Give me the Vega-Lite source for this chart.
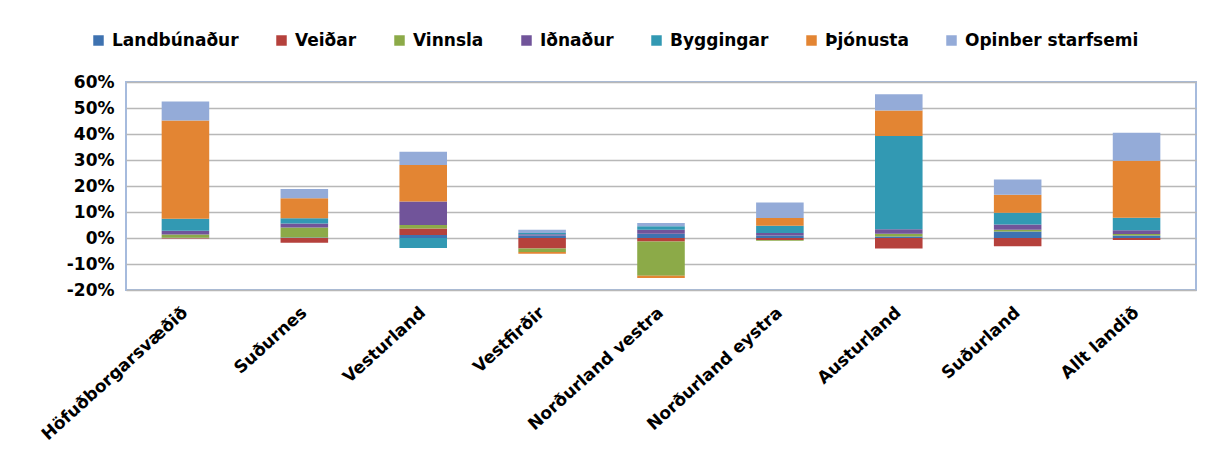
{
  "$schema": "https://vega.github.io/schema/vega-lite/v6.json",
  "autosize": {"type": "none"},
  "width": 1070,
  "height": 208,
  "padding": {"left": 126, "top": 82, "right": 14, "bottom": 173},
  "background": "white",
  "data": {
    "values": [
      {"region": "Höfuðborgarsvæðið", "sector": "Landbúnaður", "o": 1, "value": 0.001},
      {"region": "Höfuðborgarsvæðið", "sector": "Veiðar", "o": 2, "value": -0.002},
      {"region": "Höfuðborgarsvæðið", "sector": "Vinnsla", "o": 3, "value": 0.012},
      {"region": "Höfuðborgarsvæðið", "sector": "Iðnaður", "o": 4, "value": 0.015},
      {"region": "Höfuðborgarsvæðið", "sector": "Byggingar", "o": 5, "value": 0.046},
      {"region": "Höfuðborgarsvæðið", "sector": "Þjónusta", "o": 6, "value": 0.378},
      {"region": "Höfuðborgarsvæðið", "sector": "Opinber starfsemi", "o": 7, "value": 0.073},
      {"region": "Suðurnes", "sector": "Landbúnaður", "o": 1, "value": 0.002},
      {"region": "Suðurnes", "sector": "Veiðar", "o": 2, "value": -0.018},
      {"region": "Suðurnes", "sector": "Vinnsla", "o": 3, "value": 0.038},
      {"region": "Suðurnes", "sector": "Iðnaður", "o": 4, "value": 0.016},
      {"region": "Suðurnes", "sector": "Byggingar", "o": 5, "value": 0.020},
      {"region": "Suðurnes", "sector": "Þjónusta", "o": 6, "value": 0.077},
      {"region": "Suðurnes", "sector": "Opinber starfsemi", "o": 7, "value": 0.035},
      {"region": "Vesturland", "sector": "Landbúnaður", "o": 1, "value": 0.012},
      {"region": "Vesturland", "sector": "Veiðar", "o": 2, "value": 0.025},
      {"region": "Vesturland", "sector": "Vinnsla", "o": 3, "value": 0.013},
      {"region": "Vesturland", "sector": "Iðnaður", "o": 4, "value": 0.090},
      {"region": "Vesturland", "sector": "Byggingar", "o": 5, "value": -0.038},
      {"region": "Vesturland", "sector": "Þjónusta", "o": 6, "value": 0.141},
      {"region": "Vesturland", "sector": "Opinber starfsemi", "o": 7, "value": 0.051},
      {"region": "Vestfirðir", "sector": "Landbúnaður", "o": 1, "value": 0.010},
      {"region": "Vestfirðir", "sector": "Veiðar", "o": 2, "value": -0.040},
      {"region": "Vestfirðir", "sector": "Vinnsla", "o": 3, "value": -0.014},
      {"region": "Vestfirðir", "sector": "Iðnaður", "o": 4, "value": 0.004},
      {"region": "Vestfirðir", "sector": "Byggingar", "o": 5, "value": 0.005},
      {"region": "Vestfirðir", "sector": "Þjónusta", "o": 6, "value": -0.007},
      {"region": "Vestfirðir", "sector": "Opinber starfsemi", "o": 7, "value": 0.013},
      {"region": "Norðurland vestra", "sector": "Landbúnaður", "o": 1, "value": 0.016},
      {"region": "Norðurland vestra", "sector": "Veiðar", "o": 2, "value": -0.013},
      {"region": "Norðurland vestra", "sector": "Vinnsla", "o": 3, "value": -0.132},
      {"region": "Norðurland vestra", "sector": "Iðnaður", "o": 4, "value": 0.016},
      {"region": "Norðurland vestra", "sector": "Byggingar", "o": 5, "value": 0.013},
      {"region": "Norðurland vestra", "sector": "Þjónusta", "o": 6, "value": -0.009},
      {"region": "Norðurland vestra", "sector": "Opinber starfsemi", "o": 7, "value": 0.013},
      {"region": "Norðurland eystra", "sector": "Landbúnaður", "o": 1, "value": 0.010},
      {"region": "Norðurland eystra", "sector": "Veiðar", "o": 2, "value": -0.008},
      {"region": "Norðurland eystra", "sector": "Vinnsla", "o": 3, "value": -0.003},
      {"region": "Norðurland eystra", "sector": "Iðnaður", "o": 4, "value": 0.009},
      {"region": "Norðurland eystra", "sector": "Byggingar", "o": 5, "value": 0.028},
      {"region": "Norðurland eystra", "sector": "Þjónusta", "o": 6, "value": 0.030},
      {"region": "Norðurland eystra", "sector": "Opinber starfsemi", "o": 7, "value": 0.060},
      {"region": "Austurland", "sector": "Landbúnaður", "o": 1, "value": 0.006},
      {"region": "Austurland", "sector": "Veiðar", "o": 2, "value": -0.040},
      {"region": "Austurland", "sector": "Vinnsla", "o": 3, "value": 0.010},
      {"region": "Austurland", "sector": "Iðnaður", "o": 4, "value": 0.018},
      {"region": "Austurland", "sector": "Byggingar", "o": 5, "value": 0.358},
      {"region": "Austurland", "sector": "Þjónusta", "o": 6, "value": 0.098},
      {"region": "Austurland", "sector": "Opinber starfsemi", "o": 7, "value": 0.063},
      {"region": "Suðurland", "sector": "Landbúnaður", "o": 1, "value": 0.025},
      {"region": "Suðurland", "sector": "Veiðar", "o": 2, "value": -0.032},
      {"region": "Suðurland", "sector": "Vinnsla", "o": 3, "value": 0.007},
      {"region": "Suðurland", "sector": "Iðnaður", "o": 4, "value": 0.020},
      {"region": "Suðurland", "sector": "Byggingar", "o": 5, "value": 0.045},
      {"region": "Suðurland", "sector": "Þjónusta", "o": 6, "value": 0.069},
      {"region": "Suðurland", "sector": "Opinber starfsemi", "o": 7, "value": 0.059},
      {"region": "Allt landið", "sector": "Landbúnaður", "o": 1, "value": 0.010},
      {"region": "Allt landið", "sector": "Veiðar", "o": 2, "value": -0.008},
      {"region": "Allt landið", "sector": "Vinnsla", "o": 3, "value": 0.005},
      {"region": "Allt landið", "sector": "Iðnaður", "o": 4, "value": 0.015},
      {"region": "Allt landið", "sector": "Byggingar", "o": 5, "value": 0.048},
      {"region": "Allt landið", "sector": "Þjónusta", "o": 6, "value": 0.219},
      {"region": "Allt landið", "sector": "Opinber starfsemi", "o": 7, "value": 0.108}
    ]
  },
  "mark": {"type": "bar"},
  "encoding": {
    "x": {
      "field": "region",
      "type": "nominal",
      "sort": null,
      "scale": {"paddingInner": 0.6, "paddingOuter": 0.3},
      "axis": {
        "title": null,
        "labelAngle": -42,
        "labelAlign": "right",
        "labelBaseline": "middle",
        "labelPadding": 20,
        "labelLimit": 0,
        "labelOverlap": false,
        "ticks": false,
        "domain": false,
        "labelFont": "DejaVu Sans",
        "labelFontSize": 17,
        "labelFontWeight": "bold",
        "labelColor": "#000000"
      }
    },
    "y": {
      "field": "value",
      "type": "quantitative",
      "stack": "zero",
      "scale": {"domain": [-0.2, 0.6], "nice": false},
      "axis": {
        "title": null,
        "labelExpr": "replace(format(datum.value, '.0%'), '−', '-')",
        "values": [-0.2, -0.1, 0, 0.1, 0.2, 0.3, 0.4, 0.5, 0.6],
        "ticks": false,
        "domain": false,
        "labelPadding": 12,
        "labelFont": "DejaVu Sans",
        "labelFontSize": 17,
        "labelFontWeight": "bold",
        "labelColor": "#000000",
        "gridColor": "#b8b8b8",
        "gridWidth": 1.5
      }
    },
    "color": {
      "field": "sector",
      "type": "nominal",
      "scale": {
        "domain": ["Landbúnaður", "Veiðar", "Vinnsla", "Iðnaður", "Byggingar", "Þjónusta", "Opinber starfsemi"],
        "range": ["#3E72B0", "#B5413C", "#8CAA48", "#71549A", "#3299B3", "#E38533", "#94ABD8"]
      },
      "legend": {
        "title": null,
        "orient": "none",
        "direction": "horizontal",
        "columns": 7,
        "gridAlign": "none",
        "legendX": -36,
        "legendY": -50,
        "symbolType": "square",
        "symbolSize": 110,
        "symbolStrokeWidth": 0,
        "labelFont": "DejaVu Sans",
        "labelFontSize": 17,
        "labelFontWeight": "bold",
        "labelColor": "#000000",
        "labelLimit": 0,
        "labelOffset": 5,
        "columnPadding": 34
      }
    },
    "order": {"field": "o", "type": "quantitative"}
  },
  "config": {
    "view": {"stroke": "#a6bbdd", "strokeWidth": 2}
  }
}
